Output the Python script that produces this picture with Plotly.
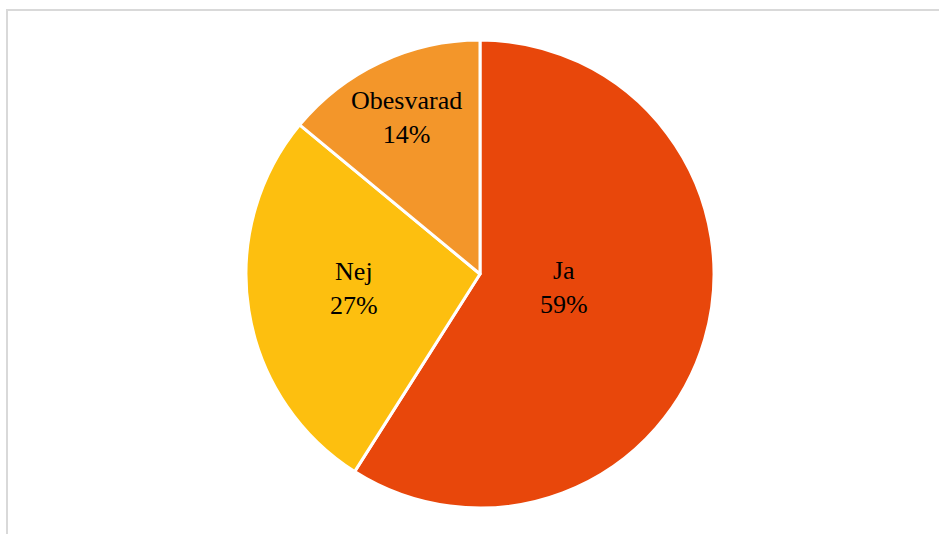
import math
import plotly.graph_objects as go

# Survey answers (share of respondents, %)
labels = ["Ja", "Nej", "Obesvarad"]
values = [59, 27, 14]
colors = ["#E8470B", "#FDBF0F", "#F3962A"]

# Label placement: radial fraction of the pie radius, plus a small upward nudge (px)
label_radius = [0.374, 0.547, 0.735]
label_nudge = [11, 6, 1]

W, H = 939, 534
cx, cy, r = 480, 274, 234

fig = go.Figure(
    go.Pie(
        labels=labels,
        values=values,
        sort=False,
        direction="clockwise",
        rotation=0,
        marker=dict(colors=colors, line=dict(color="white", width=3)),
        textinfo="none",
        hoverinfo="label+percent",
        domain=dict(x=[(cx - r) / W, (cx + r) / W], y=[1 - (cy + r) / H, 1 - (cy - r) / H]),
    )
)

# Category/percent labels placed along each slice's middle angle
total = sum(values)
start = 0.0
for lab, val, f, dy in zip(labels, values, label_radius, label_nudge):
    mid = (start + val / 2) / total * 2 * math.pi
    start += val
    px = cx + f * r * math.sin(mid)
    py = cy - f * r * math.cos(mid) - dy
    fig.add_annotation(
        x=px / W, y=1 - py / H, xref="paper", yref="paper",
        xanchor="center", yanchor="middle",
        text=f"{lab}<br>{round(val / total * 100)}%",
        showarrow=False, align="center",
        font=dict(family="Liberation Serif", size=26, color="black"),
    )

# Light grey chart-area frame
fig.add_shape(
    type="rect", xref="paper", yref="paper",
    x0=7 / W, y0=-0.05, x1=1.05, y1=1 - 10 / H,
    line=dict(color="#D9D9D9", width=2), fillcolor="rgba(0,0,0,0)", layer="below",
)

fig.update_layout(
    width=W, height=H,
    margin=dict(l=0, r=0, t=0, b=0),
    paper_bgcolor="white", plot_bgcolor="white",
    showlegend=False,
)

fig.write_html("out.html")
